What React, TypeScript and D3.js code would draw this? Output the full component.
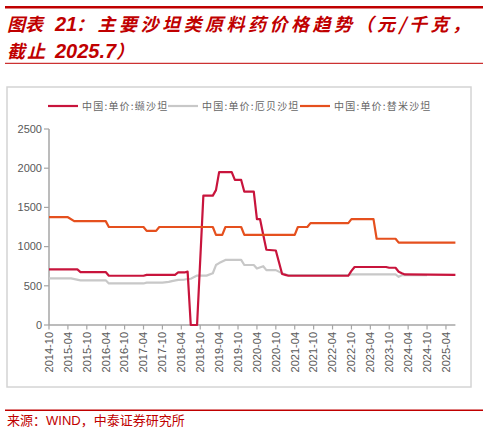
import React from 'react';
import * as d3 from 'd3';

const W = 488;
const H = 433;

// x axis tick labels (every 6 months)
const xTickLabels = [
  '2014-10', '2015-04', '2015-10', '2016-04', '2016-10', '2017-04', '2017-10',
  '2018-04', '2018-10', '2019-04', '2019-10', '2020-04', '2020-10', '2021-04',
  '2021-10', '2022-04', '2022-10', '2023-04', '2023-10', '2024-04', '2024-10',
  '2025-04',
];
const yTicks = [0, 500, 1000, 1500, 2000, 2500];

// price series (元/千克), listed at the months where the price changes
const valsartan: [string, number][] = [
  ['2014-10', 710], ['2015-07', 710], ['2015-08', 675], ['2016-04', 675],
  ['2016-05', 628], ['2017-04', 628], ['2017-05', 640], ['2018-02', 640],
  ['2018-03', 670], ['2018-05', 670], ['2018-06', 680], ['2018-07', 0],
  ['2018-09', 0], ['2018-11', 1650], ['2019-02', 1650], ['2019-03', 1720],
  ['2019-04', 1950], ['2019-08', 1950], ['2019-09', 1850], ['2019-11', 1850],
  ['2019-12', 1700], ['2020-03', 1700], ['2020-04', 1350], ['2020-05', 1350],
  ['2020-06', 1150], ['2020-07', 960], ['2020-10', 950], ['2020-11', 800],
  ['2020-12', 650], ['2021-01', 640], ['2021-02', 628], ['2022-09', 628],
  ['2022-10', 690], ['2022-11', 740], ['2023-09', 740], ['2023-10', 730],
  ['2023-12', 730], ['2024-01', 680], ['2024-02', 660], ['2024-03', 645],
  ['2025-07', 640],
];
const irbesartan: [string, number][] = [
  ['2014-10', 595], ['2015-05', 595], ['2015-08', 570], ['2016-04', 570],
  ['2016-05', 530], ['2017-04', 530], ['2017-05', 540], ['2017-10', 540],
  ['2017-12', 550], ['2018-01', 560], ['2018-03', 575], ['2018-05', 580],
  ['2018-07', 590], ['2018-09', 630], ['2018-12', 630], ['2019-02', 660],
  ['2019-03', 765], ['2019-04', 790], ['2019-06', 830], ['2019-11', 830],
  ['2019-12', 765], ['2020-03', 765], ['2020-04', 720], ['2020-06', 750],
  ['2020-07', 700], ['2020-10', 700], ['2020-12', 660], ['2021-02', 635],
  ['2022-09', 635], ['2022-10', 645], ['2023-12', 645], ['2024-01', 615],
  ['2024-02', 635], ['2024-10', 635],
];
const telmisartan: [string, number][] = [
  ['2014-10', 1375], ['2015-04', 1375], ['2015-06', 1325], ['2016-04', 1325],
  ['2016-05', 1250], ['2017-04', 1250], ['2017-05', 1200], ['2017-08', 1200],
  ['2017-09', 1250], ['2019-02', 1250], ['2019-03', 1150], ['2019-05', 1150],
  ['2019-06', 1250], ['2019-11', 1250], ['2019-12', 1150], ['2021-04', 1150],
  ['2021-05', 1250], ['2021-08', 1250], ['2021-09', 1300], ['2022-09', 1300],
  ['2022-10', 1350], ['2023-05', 1350], ['2023-06', 1100], ['2023-12', 1100],
  ['2024-01', 1050], ['2025-07', 1050],
];

const seriesNames = ['中国:单价:缬沙坦', '中国:单价:厄贝沙坦', '中国:单价:替米沙坦'];
const seriesColors = ['#C8143C', '#C8C8C8', '#E5501E'];
const seriesData = [valsartan, irbesartan, telmisartan];
const drawOrder = [1, 0, 2];

const RED = '#C00000';
const SANS = '"Liberation Sans", Arial, sans-serif';
const CJK = '"Noto Sans CJK SC", sans-serif';

const monthIndex = (s: string) => {
  const [yy, mm] = s.split('-').map(Number);
  return (yy - 2014) * 12 + (mm - 10);
};

export default function App() {
  const x = d3.scaleLinear().domain([0, monthIndex('2025-07')]).range([49, 455.4]);
  const y = d3.scaleLinear().domain([0, 2500]).range([325, 129]);
  const line = d3
    .line<[string, number]>()
    .x((d) => x(monthIndex(d[0])))
    .y((d) => y(d[1]));

  const legendX = [48, 168, 300];
  const titleStyle = {
    fill: RED,
    fontWeight: 'bold' as const,
    fontStyle: 'italic' as const,
  };

  return (
    <svg
      width={W}
      height={H}
      style={{ position: 'absolute', left: 0, top: 0, display: 'block', background: '#fff' }}
    >
      {/* header */}
      <rect x={5} y={6} width={478} height={2.5} fill={RED} />
      <g style={titleStyle}>
        <text x={7} y={31} fontFamily={CJK} fontSize={18}>图表</text>
        <text x={55} y={31} fontFamily={SANS} fontSize={20}>21</text>
        <text x={76} y={31} fontFamily={CJK} fontSize={18} letterSpacing={3.5}>
          ：主要沙坦类原料药价格趋势（元/千克，
        </text>
        <text x={7} y={57.5} fontFamily={CJK} fontSize={18} letterSpacing={2}>截止</text>
        <text x={55} y={57.5} fontFamily={SANS} fontSize={20}>2025.7</text>
        <text x={116} y={57.5} fontFamily={CJK} fontSize={18}>）</text>
      </g>
      <rect x={5} y={62.8} width={478} height={1} fill={RED} />

      {/* chart frame */}
      <rect x={7} y={87} width={464} height={300} fill="#fff" stroke="#D4D4D4" strokeWidth={1.5} />

      {/* legend */}
      {seriesNames.map((name, i) => (
        <g key={name}>
          <line
            x1={legendX[i]}
            x2={legendX[i] + 30}
            y1={106}
            y2={106}
            stroke={seriesColors[i]}
            strokeWidth={2.2}
          />
          <text
            x={legendX[i] + 34}
            y={109.5}
            fontFamily={CJK}
            fontSize={10}
            letterSpacing={1.2}
            fill="#666"
          >
            {name}
          </text>
        </g>
      ))}

      {/* y axis */}
      <line x1={49} x2={49} y1={y(2500)} y2={y(0)} stroke="#A6A6A6" strokeWidth={1.5} />
      {yTicks.map((t) => (
        <g key={t}>
          <line x1={44} x2={49} y1={y(t)} y2={y(t)} stroke="#A6A6A6" strokeWidth={1.2} />
          <text
            x={42}
            y={y(t)}
            dy="0.35em"
            textAnchor="end"
            fontFamily={SANS}
            fontSize={11}
            fill="#595959"
          >
            {t}
          </text>
        </g>
      ))}

      {/* x axis */}
      <line x1={49} x2={455.4} y1={y(0)} y2={y(0)} stroke="#A6A6A6" strokeWidth={1.5} />
      {xTickLabels.map((lab) => {
        const xi = x(monthIndex(lab));
        return (
          <g key={lab}>
            <line x1={xi} x2={xi} y1={y(0)} y2={y(0) + 4.5} stroke="#A6A6A6" strokeWidth={1.2} />
            <text
              transform={`translate(${xi},${y(0) + 7}) rotate(-90)`}
              dy="0.35em"
              textAnchor="end"
              fontFamily={SANS}
              fontSize={11}
              fill="#595959"
            >
              {lab}
            </text>
          </g>
        );
      })}

      {/* series */}
      {drawOrder.map((i) => (
        <path
          key={seriesNames[i]}
          d={line(seriesData[i]) || ''}
          fill="none"
          stroke={seriesColors[i]}
          strokeWidth={2.2}
          strokeLinejoin="round"
        />
      ))}

      {/* footer */}
      <rect x={5} y={409.5} width={478} height={1.5} fill={RED} />
      <text x={7} y={425} fill={RED} fontFamily={CJK} fontSize={13}>
        来源：
        <tspan fontFamily={SANS}>WIND</tspan>
        ，中泰证券研究所
      </text>
    </svg>
  );
}
